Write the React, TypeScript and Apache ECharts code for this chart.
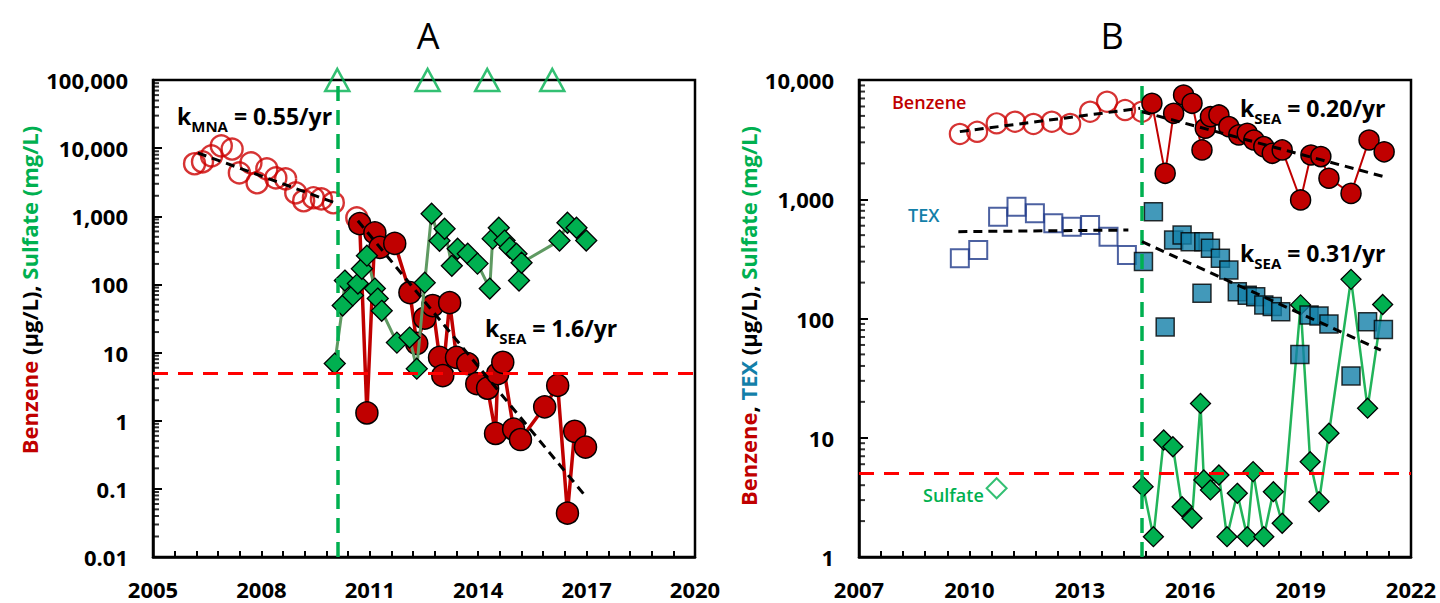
import React, { useEffect, useRef } from 'react';
import * as echarts from 'echarts';

const FONT = '"Open Sans", "Noto Sans", sans-serif';
const RED = '#C00000';
const OPEN_RED = '#CC0000';
const GREEN = '#00B050';
const TEAL = '#137FA9';
const NAVY = '#1F3A8A';

// ---------------- Panel A ----------------
const aXTickLabels = ['2005', '2008', '2011', '2014', '2017', '2020'];
const aYTickLabels = ['0.01', '0.1', '1', '10', '100', '1,000', '10,000', '100,000'];

const aBenzenePreYears = [2006.15, 2006.37, 2006.62, 2006.89, 2007.19, 2007.39, 2007.71, 2007.88, 2008.15, 2008.4, 2008.67, 2008.95, 2009.17, 2009.44, 2009.66, 2009.99, 2010.64];
const aBenzenePre = [5900, 6300, 7700, 10800, 9700, 4330, 6070, 3100, 4960, 3660, 3540, 2210, 1690, 1870, 1800, 1580, 950];

const aBenzenePostYears = [2010.72, 2010.92, 2011.14, 2011.28, 2011.69, 2012.11, 2012.3, 2012.52, 2012.74, 2012.93, 2013.02, 2013.21, 2013.4, 2013.71, 2013.96, 2014.26, 2014.48, 2014.54, 2014.68, 2014.98, 2015.17, 2015.84, 2016.2, 2016.47, 2016.67, 2016.97];
const aBenzenePost = [780, 1.3, 570, 350, 400, 76, 13.6, 32, 49, 8.5, 4.6, 54, 8.5, 6.9, 3.5, 3.0, 0.65, 4.9, 7.2, 0.75, 0.53, 1.6, 3.3, 0.044, 0.7, 0.41];

const aSulfateYears = [2010.03, 2010.25, 2010.31, 2010.53, 2010.67, 2010.78, 2010.92, 2011.14, 2011.22, 2011.33, 2011.75, 2012.1, 2012.3, 2012.52, 2012.71, 2012.93, 2013.07, 2013.27, 2013.43, 2013.71, 2013.98, 2014.32, 2014.4, 2014.57, 2014.73, 2014.87, 2015.06, 2015.13, 2015.2, 2016.25, 2016.47, 2016.72, 2016.99];
const aSulfate = [6.9, 49, 114, 69, 103, 170, 264, 87, 62, 41, 14, 16.6, 5.8, 106, 1090, 438, 656, 188, 334, 282, 202, 87, 470, 679, 440, 346, 282, 114, 208, 440, 803, 679, 440];

const aInjectionYears = [2010.1, 2012.6, 2014.25, 2016.05];
const aInjectionMarker = [100000, 100000, 100000, 100000];

const aMnaTrendYears = [2006.24, 2010.03];
const aMnaTrend = [8500, 1580];
const aSeaTrendYears = [2010.67, 2016.97];
const aSeaTrend = [860, 0.078];

const aInjectionStart = 2010.1;

// ---------------- Panel B ----------------
const bXTickLabels = ['2007', '2010', '2013', '2016', '2019', '2022'];
const bYTickLabels = ['1', '10', '100', '1,000', '10,000'];

const bBenzenePreYears = [2009.74, 2010.21, 2010.74, 2011.24, 2011.74, 2012.24, 2012.74, 2013.28, 2013.74, 2014.23, 2014.69];
const bBenzenePre = [3530, 3680, 4330, 4470, 4280, 4470, 4280, 5420, 6580, 5600, 5420];

const bBenzenePostYears = [2014.96, 2015.32, 2015.55, 2015.82, 2016.05, 2016.32, 2016.41, 2016.55, 2016.78, 2017.05, 2017.32, 2017.55, 2017.73, 2018.0, 2018.23, 2018.5, 2019.0, 2019.28, 2019.55, 2019.77, 2020.37, 2020.86, 2021.27];
const bBenzenePost = [6380, 1650, 5260, 7480, 6380, 2590, 3940, 4920, 5090, 4060, 3460, 3570, 3140, 2760, 2430, 2590, 986, 2350, 2280, 1500, 1120, 3140, 2500];

const bTexPreYears = [2009.74, 2010.24, 2010.78, 2011.28, 2011.78, 2012.28, 2012.78, 2013.28, 2013.78, 2014.28];
const bTexPre = [320, 375, 714, 866, 762, 629, 589, 608, 485, 341];

const bTexPostYears = [2014.73, 2015.0, 2015.32, 2015.55, 2015.78, 2016.0, 2016.32, 2016.37, 2016.55, 2016.82, 2017.05, 2017.28, 2017.55, 2017.78, 2018.0, 2018.23, 2018.46, 2018.98, 2019.23, 2019.5, 2019.77, 2020.37, 2020.82, 2021.25];
const bTexPost = [300, 787, 85, 455, 501, 441, 163, 441, 388, 320, 255, 168, 157, 152, 130, 126, 114, 50, 107, 105, 90, 33, 94, 81];

const bSulfatePreYears = [2010.74];
const bSulfatePre = [3.77];

const bSulfateYears = [2014.72, 2015.0, 2015.28, 2015.53, 2015.78, 2016.05, 2016.28, 2016.37, 2016.55, 2016.78, 2017.0, 2017.28, 2017.55, 2017.71, 2018.0, 2018.26, 2018.5, 2019.0, 2019.26, 2019.5, 2019.77, 2020.37, 2020.82, 2021.23];
const bSulfate = [3.89, 1.48, 9.57, 8.4, 2.64, 2.11, 19.4, 4.42, 3.65, 4.87, 1.48, 3.42, 1.48, 5.2, 1.48, 3.53, 1.92, 130, 6.3, 2.91, 10.9, 213, 17.7, 131];

const bBenzPreTrendYears = [2009.74, 2014.64];
const bBenzPreTrend = [3690, 5790];
const bBenzPostTrendYears = [2014.69, 2021.27];
const bBenzPostTrend = [5420, 1545];
const bTexPreTrendYears = [2009.7, 2014.32];
const bTexPreTrend = [535, 552];
const bTexPostTrendYears = [2014.69, 2021.18];
const bTexPostTrend = [441, 54.4];

const bInjectionStart = 2014.67;

// MCL for benzene
const mclBenzene = 5;

// ---------------- helpers ----------------
const pairs = (xs: number[], ys: number[]) => xs.map((x, i) => [x, ys[i]]);

const minorLog = (minExp: number, maxExp: number) => {
  const out: number[] = [];
  for (let e = minExp; e < maxExp; e++) for (let m = 2; m <= 9; m++) out.push(m * Math.pow(10, e));
  return out;
};

const labelStyle = { color: '#000', fontFamily: FONT, fontSize: 22, fontWeight: 'bold' as const };

const xAxis = (grid: number, min: number, max: number, labels: string[]) => ({
  type: 'value',
  gridIndex: grid,
  min,
  max,
  interval: 3,
  axisLine: { show: true, onZero: false, lineStyle: { color: '#000', width: 2.5 } },
  axisTick: { show: true, inside: true, length: 6, lineStyle: { color: '#000', width: 2 } },
  minorTick: { show: true, splitNumber: 5, length: 6, lineStyle: { color: '#000', width: 2 } },
  splitLine: { show: false },
  minorSplitLine: { show: false },
  axisLabel: {
    ...labelStyle,
    lineHeight: 22,
    margin: 21,
    formatter: (v: number) => labels[Math.round((v - min) / 3)] ?? '',
  },
});

const yAxis = (grid: number, min: number, max: number, labels: string[], minExp: number) => ({
  type: 'log',
  logBase: 10,
  gridIndex: grid,
  min,
  max,
  axisLine: { show: true, onZero: false, lineStyle: { color: '#000', width: 2.5 } },
  axisTick: { show: true, inside: true, length: 9, lineStyle: { color: '#000', width: 2 } },
  splitLine: { show: false },
  axisLabel: { ...labelStyle, margin: 25, formatter: (v: number) => labels[Math.round(Math.log10(v)) - minExp] ?? '' },
});

const minorTickSeries = (idx: number, xMin: number, minExp: number, maxExp: number, injection: number) => ({
  type: 'scatter',
  xAxisIndex: idx,
  yAxisIndex: idx,
  data: minorLog(minExp, maxExp).map((v) => [xMin, v]),
  symbol: 'rect',
  symbolSize: [6, 2],
  symbolOffset: [3, 0],
  itemStyle: { color: '#000' },
  silent: true,
  clip: false,
  z: 1,
  markLine: {
    symbol: ['none', 'none'],
    silent: true,
    label: { show: false },
    data: [
      { yAxis: mclBenzene, lineStyle: { color: '#FF0000', type: [15, 10], width: 3 } },
      { xAxis: injection, lineStyle: { color: GREEN, type: [15, 9], width: 3.5 } },
    ],
  },
});

const trend = (idx: number, xs: number[], ys: number[]) => ({
  type: 'line',
  xAxisIndex: idx,
  yAxisIndex: idx,
  data: pairs(xs, ys),
  showSymbol: false,
  symbol: 'none',
  silent: true,
  lineStyle: { color: '#000', width: 3, type: [9, 6] },
  z: 8,
});

const sub = (size: number) => ({ fontSize: size, fontWeight: 'bold', fontFamily: FONT, fill: '#000', padding: [20, 0, 0, 0] });
const main = (size: number) => ({ fontSize: size, fontWeight: 'bold', fontFamily: FONT, fill: '#000' });

const kText = (x: number, y: number, subscript: string, rest: string) => ({
  type: 'text',
  x,
  y,
  silent: true,
  style: {
    text: `{m|k}{s|${subscript}}{m| = ${rest}}`,
    rich: { m: main(23), s: sub(15) },
    align: 'left',
    verticalAlign: 'middle',
    textAlign: 'left',
    textVerticalAlign: 'middle',
  },
});

const yTitleRich = {
  r: { fill: RED, fontSize: 22, fontWeight: 'bold', fontFamily: FONT },
  k: { fill: '#000', fontSize: 22, fontWeight: 'bold', fontFamily: FONT },
  g: { fill: GREEN, fontSize: 22, fontWeight: 'bold', fontFamily: FONT },
  t: { fill: TEAL, fontSize: 22, fontWeight: 'bold', fontFamily: FONT },
};

const plainText = (x: number, y: number, text: string, fill: string, size: number, weight: string) => ({
  type: 'text',
  x,
  y,
  silent: true,
  style: {
    text,
    fill,
    fontSize: size,
    fontWeight: weight,
    fontFamily: FONT,
    align: 'left',
    verticalAlign: 'middle',
    textAlign: 'left',
    textVerticalAlign: 'middle',
  },
});

const option: any = {
  animation: false,
  backgroundColor: '#fff',
  textStyle: { fontFamily: FONT },
  grid: [
    { left: 153, top: 80, width: 542, height: 477, show: true, borderColor: '#000', borderWidth: 2.5, backgroundColor: 'transparent' },
    { left: 859, top: 80, width: 552, height: 477, show: true, borderColor: '#000', borderWidth: 2.5, backgroundColor: 'transparent' },
  ],
  xAxis: [xAxis(0, 2005, 2020, aXTickLabels), xAxis(1, 2007, 2022, bXTickLabels)],
  yAxis: [yAxis(0, 0.01, 100000, aYTickLabels, -2), yAxis(1, 1, 10000, bYTickLabels, 0)],
  series: [
    // ---- Panel A ----
    minorTickSeries(0, 2005, -2, 5, aInjectionStart),
    {
      type: 'scatter',
      xAxisIndex: 0,
      yAxisIndex: 0,
      data: pairs(aBenzenePreYears, aBenzenePre),
      symbol: 'circle',
      symbolSize: 21,
      itemStyle: { color: 'rgba(255,255,255,0)', borderColor: OPEN_RED, borderWidth: 2.4 },
      silent: true,
      z: 2,
    },
    {
      type: 'line',
      xAxisIndex: 0,
      yAxisIndex: 0,
      data: pairs(aBenzenePostYears, aBenzenePost),
      symbol: 'circle',
      symbolSize: 22,
      showSymbol: true,
      itemStyle: { color: RED, borderColor: '#000', borderWidth: 1.5 },
      lineStyle: { color: RED, width: 3.5 },
      silent: true,
      z: 3,
    },
    {
      type: 'line',
      xAxisIndex: 0,
      yAxisIndex: 0,
      data: pairs(aSulfateYears, aSulfate),
      symbol: 'diamond',
      symbolSize: 21,
      showSymbol: true,
      itemStyle: { color: GREEN, borderColor: '#000', borderWidth: 1.3 },
      lineStyle: { color: '#5F9A62', width: 3 },
      silent: true,
      z: 4,
    },
    trend(0, aMnaTrendYears, aMnaTrend),
    trend(0, aSeaTrendYears, aSeaTrend),
    {
      type: 'scatter',
      xAxisIndex: 0,
      yAxisIndex: 0,
      data: pairs(aInjectionYears, aInjectionMarker),
      symbol: 'triangle',
      symbolSize: [24, 22],
      itemStyle: { color: 'rgba(255,255,255,0)', borderColor: GREEN, borderWidth: 2.5 },
      clip: false,
      silent: true,
      z: 9,
    },
    // ---- Panel B ----
    minorTickSeries(1, 2007, 0, 4, bInjectionStart),
    {
      type: 'line',
      xAxisIndex: 1,
      yAxisIndex: 1,
      data: pairs(bSulfateYears, bSulfate),
      symbol: 'diamond',
      symbolSize: 20,
      showSymbol: true,
      itemStyle: { color: GREEN, borderColor: '#000', borderWidth: 1.3 },
      lineStyle: { color: '#22B45A', width: 2.5 },
      silent: true,
      z: 2,
    },
    {
      type: 'scatter',
      xAxisIndex: 1,
      yAxisIndex: 1,
      data: pairs(bSulfatePreYears, bSulfatePre),
      symbol: 'diamond',
      symbolSize: 20,
      itemStyle: { color: '#fff', borderColor: GREEN, borderWidth: 2 },
      silent: true,
      z: 2,
    },
    {
      type: 'scatter',
      xAxisIndex: 1,
      yAxisIndex: 1,
      data: pairs(bTexPreYears, bTexPre),
      symbol: 'rect',
      symbolSize: 18,
      itemStyle: { color: 'rgba(255,255,255,0)', borderColor: NAVY, borderWidth: 2 },
      silent: true,
      z: 3,
    },
    {
      type: 'scatter',
      xAxisIndex: 1,
      yAxisIndex: 1,
      data: pairs(bTexPostYears, bTexPost),
      symbol: 'rect',
      symbolSize: 18,
      itemStyle: { color: TEAL, borderColor: '#000', borderWidth: 1.5 },
      silent: true,
      z: 3,
    },
    {
      type: 'scatter',
      xAxisIndex: 1,
      yAxisIndex: 1,
      data: pairs(bBenzenePreYears, bBenzenePre),
      symbol: 'circle',
      symbolSize: 20,
      itemStyle: { color: 'rgba(255,255,255,0)', borderColor: OPEN_RED, borderWidth: 2.2 },
      silent: true,
      z: 4,
    },
    {
      type: 'line',
      xAxisIndex: 1,
      yAxisIndex: 1,
      data: pairs(bBenzenePostYears, bBenzenePost),
      symbol: 'circle',
      symbolSize: 20,
      showSymbol: true,
      itemStyle: { color: RED, borderColor: '#000', borderWidth: 1.5 },
      lineStyle: { color: RED, width: 2 },
      silent: true,
      z: 5,
    },
    trend(1, bBenzPreTrendYears, bBenzPreTrend),
    trend(1, bBenzPostTrendYears, bBenzPostTrend),
    trend(1, bTexPreTrendYears, bTexPreTrend),
    trend(1, bTexPostTrendYears, bTexPostTrend),
  ],
  graphic: {
    elements: [
      {
        type: 'text', x: 428, y: 35, silent: true,
        style: { text: 'A', fill: '#000', fontSize: 36, fontFamily: FONT, align: 'center', verticalAlign: 'middle', textAlign: 'center', textVerticalAlign: 'middle' },
      },
      {
        type: 'text', x: 1112, y: 35, silent: true,
        style: { text: 'B', fill: '#000', fontSize: 36, fontFamily: FONT, align: 'center', verticalAlign: 'middle', textAlign: 'center', textVerticalAlign: 'middle' },
      },
      {
        type: 'text', x: 29, y: 290, rotation: Math.PI / 2, silent: true,
        style: {
          text: '{r|Benzene }{k|(µg/L), }{g|Sulfate (mg/L)}',
          rich: yTitleRich,
          align: 'center', verticalAlign: 'middle', textAlign: 'center', textVerticalAlign: 'middle',
        },
      },
      {
        type: 'text', x: 748, y: 316, rotation: Math.PI / 2, silent: true,
        style: {
          text: '{r|Benzene}{k|, }{t|TEX }{k|(µg/L), }{g|Sulfate (mg/L)}',
          rich: yTitleRich,
          align: 'center', verticalAlign: 'middle', textAlign: 'center', textVerticalAlign: 'middle',
        },
      },
      kText(177, 116, 'MNA', '0.55/yr'),
      kText(485, 328, 'SEA', '1.6/yr'),
      kText(1240, 108, 'SEA', '0.20/yr'),
      kText(1240, 253, 'SEA', '0.31/yr'),
      plainText(892, 102, 'Benzene', RED, 18, '600'),
      plainText(908, 215, 'TEX', TEAL, 18, '600'),
      plainText(923, 495, 'Sulfate', GREEN, 18, '600'),
    ],
  },
};

export default function App() {
  const ref = useRef<HTMLDivElement>(null);
  useEffect(() => {
    if (!ref.current) return;
    const chart = echarts.init(ref.current, undefined, { renderer: 'svg' });
    chart.setOption(option);
    return () => chart.dispose();
  }, []);
  return (
    <div
      ref={ref}
      style={{ position: 'absolute', left: 0, top: 0, width: 1440, height: 603, background: '#fff' }}
    />
  );
}
